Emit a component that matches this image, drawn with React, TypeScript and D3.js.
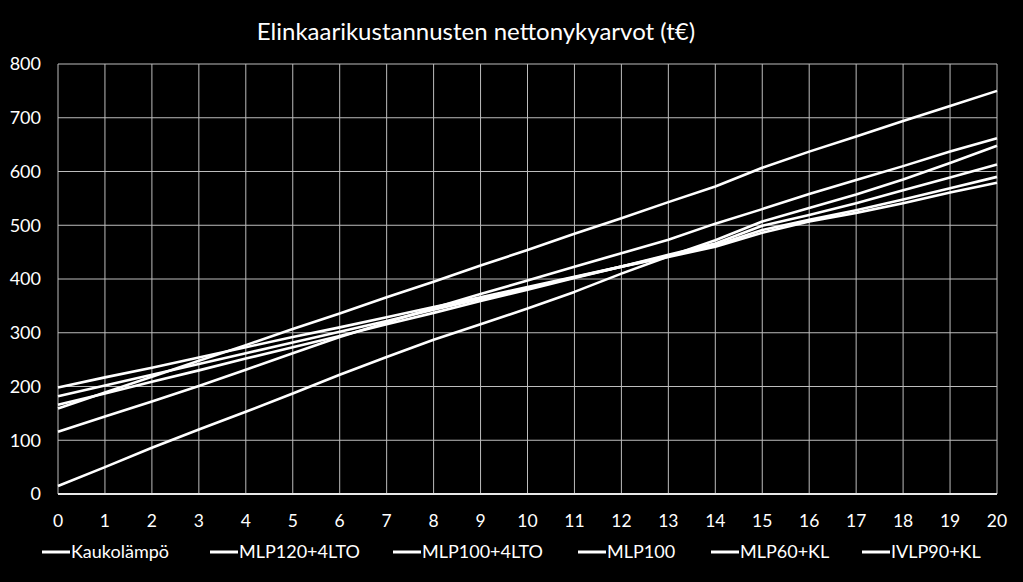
import { useMemo } from "react";
import * as d3 from "d3";

// years 0..20
const years = d3.range(0, 21);
const yTicks = [0, 100, 200, 300, 400, 500, 600, 700, 800];

const seriesNames = [
  "Kaukolämpö",
  "MLP120+4LTO",
  "MLP100+4LTO",
  "MLP100",
  "MLP60+KL",
  "IVLP90+KL",
];

// net present values (t€) per year
const kaukolampo = [15, 50, 86, 120, 153, 187, 222, 255, 287, 316, 345, 376, 410, 442, 472, 507, 532, 557, 585, 616, 648];
const mlp120 = [159, 189, 218, 248, 277, 307, 336, 366, 395, 425, 454, 484, 513, 543, 572, 607, 637, 665, 694, 722, 750];
const mlp100lto = [116, 144, 172, 201, 231, 262, 292, 319, 346, 372, 397, 423, 448, 473, 503, 530, 558, 584, 610, 637, 662];
const mlp100 = [166, 187, 209, 230, 252, 273, 294, 316, 337, 359, 380, 402, 423, 445, 466, 499, 519, 541, 565, 589, 613];
const mlp60 = [182, 202, 222, 242, 262, 282, 302, 322, 343, 363, 383, 403, 423, 443, 463, 491, 510, 528, 548, 569, 590];
const ivlp90 = [198, 217, 235, 254, 273, 292, 310, 329, 348, 366, 385, 404, 423, 441, 460, 486, 507, 523, 541, 561, 579];

const seriesValues = [kaukolampo, mlp120, mlp100lto, mlp100, mlp60, ivlp90];

// legend item start positions
const legendX = [42, 210, 393, 578, 711, 862];

const width = 1023;
const height = 582;
const margin = { left: 58, right: 26, top: 64, bottom: 88 };
const font = "Lato, 'Open Sans', sans-serif";

const App = () => {
  const { x, y, paths } = useMemo(() => {
    const x = d3
      .scaleLinear()
      .domain([0, 20])
      .range([margin.left, width - margin.right]);
    const y = d3
      .scaleLinear()
      .domain([0, 800])
      .range([height - margin.bottom, margin.top]);
    const line = d3
      .line<number>()
      .x((_, i) => x(years[i]))
      .y((d) => y(d));
    const paths = seriesValues.map((s) => line(s) ?? "");
    return { x, y, paths };
  }, []);

  return (
    <div
      style={{
        position: "fixed",
        left: 0,
        top: 0,
        width,
        height,
        background: "#000",
      }}
    >
      <svg width={width} height={height} style={{ display: "block" }}>
        <rect width={width} height={height} fill="#000" />
        <text
          x={476}
          y={40}
          textAnchor="middle"
          fill="#fff"
          fontFamily={font}
          fontSize={24}
        >
          Elinkaarikustannusten nettonykyarvot (t€)
        </text>

        {/* grid */}
        {yTicks.map((t) => (
          <line
            key={"h" + t}
            x1={x(0)}
            x2={x(20)}
            y1={y(t)}
            y2={y(t)}
            stroke="#bdbdbd"
            strokeWidth={1}
          />
        ))}
        {years.map((t) => (
          <line
            key={"v" + t}
            x1={x(t)}
            x2={x(t)}
            y1={y(0)}
            y2={y(800)}
            stroke="#bdbdbd"
            strokeWidth={1}
          />
        ))}
        <line
          x1={x(0)}
          x2={x(20)}
          y1={y(0)}
          y2={y(0)}
          stroke="#e8e8e8"
          strokeWidth={2}
        />

        {/* tick labels */}
        {yTicks.map((t) => (
          <text
            key={"yl" + t}
            x={41}
            y={y(t)}
            dy="0.35em"
            textAnchor="end"
            fill="#fff"
            fontFamily={font}
            fontSize={18}
          >
            {t}
          </text>
        ))}
        {years.map((t) => (
          <text
            key={"xl" + t}
            x={x(t)}
            y={521}
            dy="0.35em"
            textAnchor="middle"
            fill="#fff"
            fontFamily={font}
            fontSize={17.5}
          >
            {t}
          </text>
        ))}

        {/* series */}
        {paths.map((p, i) => (
          <path
            key={i}
            d={p}
            fill="none"
            stroke="#fff"
            strokeWidth={2.6}
            strokeLinejoin="round"
          />
        ))}

        {/* legend */}
        {seriesNames.map((name, i) => (
          <g key={name} transform={`translate(${legendX[i]},552)`}>
            <line x1={0} x2={28} y1={0} y2={0} stroke="#fff" strokeWidth={3} />
            <text
              x={29}
              y={0}
              dy="0.35em"
              fill="#fff"
              fontFamily={font}
              fontSize={18}
            >
              {name}
            </text>
          </g>
        ))}
      </svg>
    </div>
  );
};

export default App;
